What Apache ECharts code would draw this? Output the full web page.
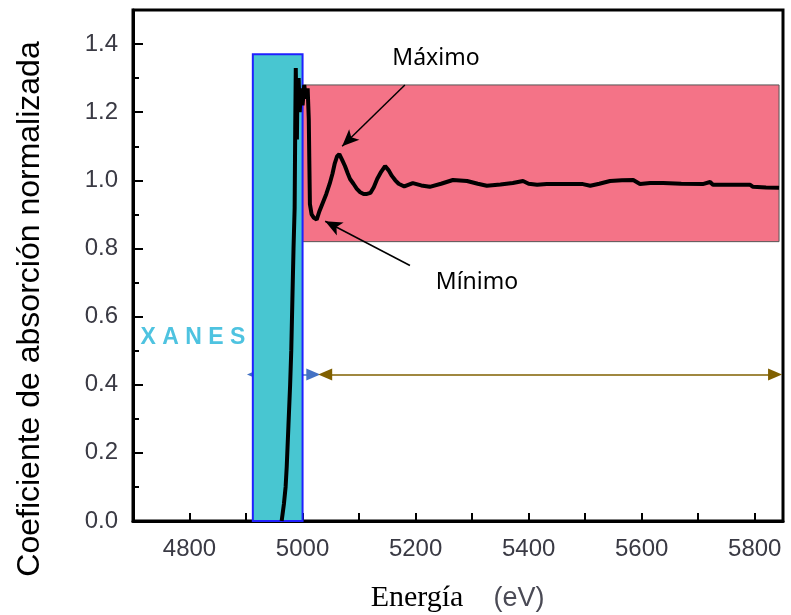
<!DOCTYPE html>
<html>
<head>
<meta charset="utf-8">
<script src="https://cdn.jsdelivr.net/npm/echarts@6/dist/echarts.min.js"></script>
<style>
  html, body { margin: 0; padding: 0; background: #fff; }
  #chart { width: 791px; height: 615px; }
</style>
</head>
<body>
<div id="chart"></div>
<script>
const energy = [4963, 4967, 4970, 4972, 4975, 4978, 4980, 4982, 4984, 4986, 4987, 4988, 4989, 4990, 4991, 4993,
  4995, 4997, 5000, 5003, 5006, 5009, 5011, 5012, 5013, 5016, 5020, 5025, 5030, 5036, 5042, 5048, 5053, 5057,
  5061, 5065, 5070, 5075, 5080, 5084, 5090, 5096, 5102, 5108, 5114, 5120, 5126, 5132, 5139, 5146, 5152, 5158,
  5164, 5170, 5180, 5195, 5210, 5225, 5245, 5266, 5291, 5310, 5326, 5350, 5372, 5390, 5400, 5415, 5432, 5465,
  5496, 5509, 5525, 5544, 5565, 5585, 5597, 5615, 5638, 5670, 5708, 5721, 5726, 5760, 5792, 5797, 5820, 5843]
const absorption = [0.00, 0.05, 0.10, 0.16, 0.28, 0.40, 0.50, 0.65, 0.80, 0.92, 1.15, 1.33, 1.20, 1.12, 1.28, 1.30,
  1.20, 1.27, 1.22, 1.28, 1.24, 1.27, 1.18, 1.05, 0.93, 0.90, 0.89, 0.885, 0.91, 0.935, 0.96, 0.99, 1.02, 1.05,
  1.07, 1.077, 1.06, 1.042, 1.02, 1.004, 0.99, 0.975, 0.965, 0.96, 0.96, 0.963, 0.98, 1.004, 1.025, 1.042, 1.03, 1.013,
  1.0, 0.99, 0.982, 0.992, 0.985, 0.981, 0.99, 1.001, 0.998, 0.99, 0.984, 0.988, 0.992, 0.998, 0.99, 0.987, 0.989, 0.989,
  0.989, 0.984, 0.99, 0.998, 1.0, 1.001, 0.989, 0.992, 0.992, 0.99, 0.989, 0.995, 0.987, 0.987, 0.987, 0.981, 0.979, 0.978]

// regiones XANES / EXAFS
const xanesRange = [4912, 5000]
const xanesTop = 1.37
const exafsRange = [5000, 5843]
const exafsBand = [0.82, 1.28]

// flechas de rango (centro de cada punta)
const arrowLevel = 0.43
const xanesArrow = [4914, 5019]
const exafsArrow = [5040, 5836]

// flechas de máximo y mínimo
const maxArrow = [[5181, 1.28], [5070, 1.10]]
const minArrow = [[5190, 0.75], [5040, 0.88]]

const chart = echarts.init(document.getElementById('chart'))

const labelColor = '#3a3a44'
const curveData = energy.map((e, i) => [e, absorption[i]])

const option = {
  animation: false,
  backgroundColor: '#fff',
  grid: {
    left: 133,
    right: 8,
    top: 10,
    bottom: 94,
    show: true,
    borderColor: '#000',
    borderWidth: 3
  },
  xAxis: {
    type: 'value',
    min: 4700,
    max: 5850,
    interval: 100,
    axisLine: { lineStyle: { color: '#000', width: 3 } },
    axisTick: { inside: true, length: 8, lineStyle: { color: '#000', width: 2 } },
    splitLine: { show: false },
    axisLabel: {
      margin: 16,
      color: labelColor,
      fontFamily: 'Liberation Sans',
      fontSize: 24,
      formatter: v => (v % 200 === 0 ? String(v) : '')
    }
  },
  yAxis: {
    type: 'value',
    min: 0,
    max: 1.5,
    interval: 0.2,
    axisLine: { lineStyle: { color: '#000', width: 3 } },
    axisTick: { inside: true, length: 10, lineStyle: { color: '#000', width: 2 } },
    minorTick: { show: true, splitNumber: 2, length: 6, lineStyle: { color: '#000', width: 2 } },
    splitLine: { show: false },
    axisLabel: {
      margin: 15,
      color: labelColor,
      fontFamily: 'Liberation Sans',
      fontSize: 24,
      formatter: v => (v > 1.45 ? '' : v.toFixed(1))
    }
  },
  series: [
    {
      // flecha azul (detrás del rectángulo XANES)
      name: 'xanesArrow',
      type: 'line',
      data: [],
      z: 1,
      markLine: {
        z: 1,
        silent: true,
        symbol: ['triangle', 'triangle'],
        symbolSize: [12, 14],
        label: { show: false },
        lineStyle: { color: '#4472C4', width: 1.5, type: 'solid' },
        data: [[{ coord: [xanesArrow[0], arrowLevel] }, { coord: [xanesArrow[1], arrowLevel] }]]
      }
    },
    {
      name: 'regiones',
      type: 'line',
      data: [],
      z: 2,
      markArea: {
        z: 2,
        silent: true,
        data: [
          [
            { xAxis: exafsRange[0], yAxis: exafsBand[0], itemStyle: { color: '#F47387', borderColor: '#555', borderWidth: 1 } },
            { xAxis: exafsRange[1], yAxis: exafsBand[1] }
          ],
          [
            { xAxis: xanesRange[0], yAxis: 0, itemStyle: { color: '#48C6D1', borderColor: '#2020FF', borderWidth: 2 } },
            { xAxis: xanesRange[1], yAxis: xanesTop }
          ]
        ]
      }
    },
    {
      name: 'espectro',
      type: 'line',
      data: curveData,
      z: 3,
      showSymbol: false,
      lineStyle: { color: '#000', width: 4 }
    },
    {
      name: 'flechas',
      type: 'line',
      data: [],
      z: 4,
      markLine: {
        z: 5,
        silent: true,
        label: { show: false },
        data: [
          [
            { coord: [exafsArrow[0], arrowLevel], symbol: 'triangle', symbolSize: [12, 14], lineStyle: { color: '#806000', width: 1.5, type: 'solid' } },
            { coord: [exafsArrow[1], arrowLevel], symbol: 'triangle', symbolSize: [12, 14] }
          ],
          [
            { coord: maxArrow[0], symbol: 'none', lineStyle: { color: '#000', width: 1.5, type: 'solid' } },
            { coord: maxArrow[1], symbol: 'arrow', symbolSize: [11, 17] }
          ],
          [
            { coord: minArrow[0], symbol: 'none', lineStyle: { color: '#000', width: 1.5, type: 'solid' } },
            { coord: minArrow[1], symbol: 'arrow', symbolSize: [11, 17] }
          ]
        ]
      }
    }
  ],
  graphic: [
    {
      type: 'text',
      x: 30,
      y: 309,
      rotation: Math.PI / 2,
      style: {
        text: 'Coeficiente de absorción normalizada',
        font: '32px "Liberation Sans"',
        fill: '#000',
        align: 'center',
        verticalAlign: 'middle'
      }
    },
    {
      type: 'text',
      x: 417,
      y: 598,
      style: { text: 'Energía', font: '30px "Liberation Serif"', fill: '#000', align: 'center', verticalAlign: 'middle' }
    },
    {
      type: 'text',
      x: 519,
      y: 599,
      style: { text: '(eV)', font: '27px "Liberation Sans"', fill: '#4a4a55', align: 'center', verticalAlign: 'middle' }
    },
    {
      type: 'text',
      x: 436,
      y: 58,
      style: { text: 'Máximo', font: '23px "Noto Sans"', fill: '#000', align: 'center', verticalAlign: 'middle' }
    },
    {
      type: 'text',
      x: 477,
      y: 282,
      style: { text: 'Mínimo', font: '23px "Noto Sans"', fill: '#000', align: 'center', verticalAlign: 'middle' }
    },
    {
      type: 'text',
      x: 193,
      y: 338,
      style: { text: 'X A N E S', font: 'bold 23px "Liberation Sans"', fill: '#4EC3E0', align: 'center', verticalAlign: 'middle' }
    },
    {
      type: 'text',
      x: 578,
      y: 130,
      style: { text: 'E X A F S', font: 'bold 23px "Liberation Sans"', fill: '#FF0000', align: 'center', verticalAlign: 'middle' }
    }
  ]
}

chart.setOption(option)
</script>
</body>
</html>
